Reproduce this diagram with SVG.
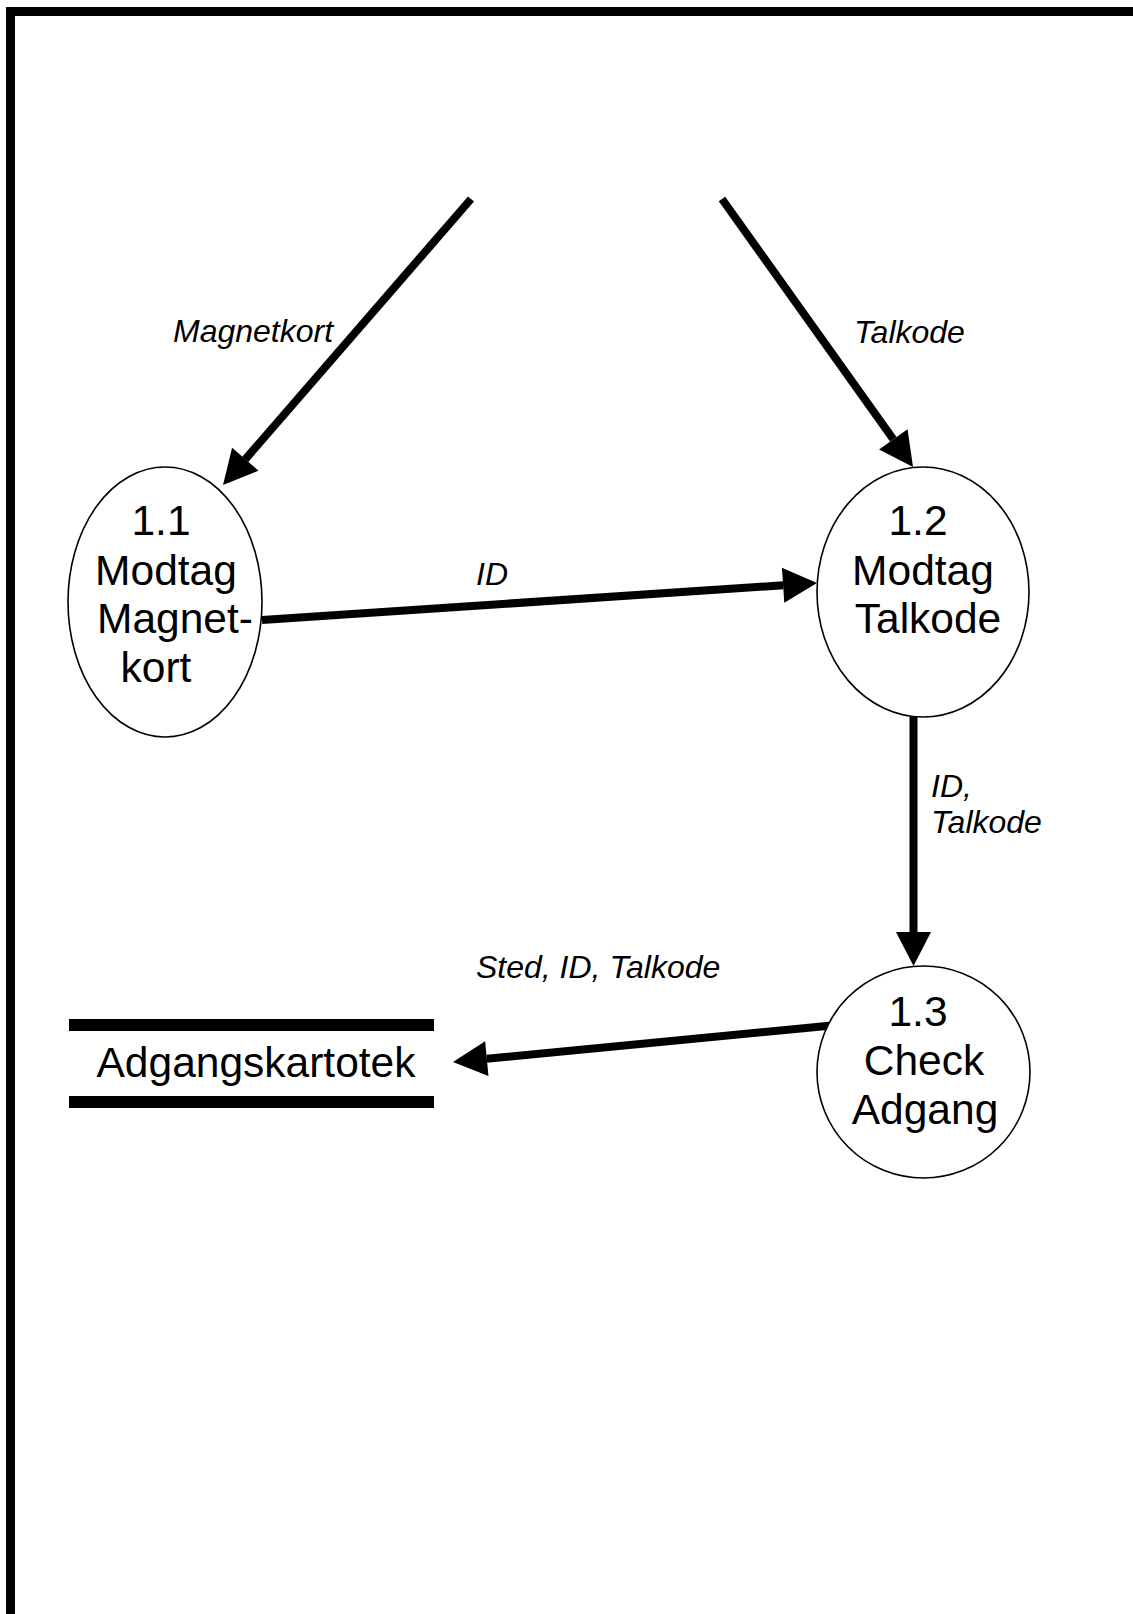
<svg xmlns="http://www.w3.org/2000/svg" width="1133" height="1614" viewBox="0 0 1133 1614">
  <style>
    .proc { fill: #ffffff; stroke: #000000; stroke-width: 1.6; }
    .ptext { font-family: "Liberation Sans", Arial, sans-serif; font-size: 42.5px; fill: #000000; text-anchor: middle; }
    .flow { fill: none; stroke: #000000; stroke-width: 8; stroke-linecap: butt; marker-end: url(#head); }
    .flabel { font-family: "Liberation Sans", Arial, sans-serif; font-size: 32px; font-style: italic; fill: #000000; }
    .bar { fill: #000000; }
  </style>
  <defs>
    <marker id="head" markerUnits="userSpaceOnUse" viewBox="0 -18 34 36" refX="0" refY="0" markerWidth="34" markerHeight="36" orient="auto" overflow="visible">
      <path d="M0,-17.5 L34,0 L0,17.5 z" fill="#000000"/>
    </marker>
  </defs>

  <rect width="1133" height="1614" fill="#ffffff"/>

  <!-- page frame: top and left edges -->
  <polyline points="10.5,1614 10.5,11.5 1133,11.5" fill="none" stroke="#000000" stroke-width="9" stroke-linejoin="miter"/>

  <!-- data flows -->
  <g id="connectors">
    <line class="flow" x1="471" y1="199" x2="245.3" y2="459.3"/>
    <line class="flow" x1="722" y1="199" x2="893.3" y2="439.3"/>
    <line class="flow" x1="262" y1="620" x2="783.1" y2="585.3"/>
    <line class="flow" x1="913.5" y1="717" x2="913.5" y2="932"/>
    <line class="flow" x1="837" y1="1025" x2="486.8" y2="1058.7"/>

    <text class="flabel" x="173" y="342">Magnetkort</text>
    <text class="flabel" x="854" y="343">Talkode</text>
    <text class="flabel" x="476" y="585">ID</text>
    <text class="flabel" x="931" y="797">ID,</text>
    <text class="flabel" x="931" y="833">Talkode</text>
    <text class="flabel" x="476" y="978">Sted, ID, Talkode</text>
  </g>

  <!-- process 1.1 -->
  <g id="p1_1">
    <ellipse class="proc" cx="165" cy="602" rx="97" ry="135"/>
    <text class="ptext" x="161" y="535">1.1</text>
    <text class="ptext" x="166" y="585">Modtag</text>
    <text class="ptext" x="175" y="633">Magnet-</text>
    <text class="ptext" x="156" y="682">kort</text>
  </g>

  <!-- process 1.2 -->
  <g id="p1_2">
    <ellipse class="proc" cx="923" cy="592" rx="106" ry="125"/>
    <text class="ptext" x="918" y="535">1.2</text>
    <text class="ptext" x="923" y="585">Modtag</text>
    <text class="ptext" x="928" y="633">Talkode</text>
  </g>

  <!-- process 1.3 -->
  <g id="p1_3">
    <ellipse class="proc" cx="923.5" cy="1072" rx="106.5" ry="106"/>
    <text class="ptext" x="918" y="1026">1.3</text>
    <text class="ptext" x="924" y="1075">Check</text>
    <text class="ptext" x="925" y="1124">Adgang</text>
  </g>

  <!-- data store -->
  <g id="store">
    <rect class="bar" x="69" y="1019" width="365" height="12"/>
    <rect class="bar" x="69" y="1096" width="365" height="12"/>
    <text class="ptext" x="256" y="1077">Adgangskartotek</text>
  </g>
</svg>
